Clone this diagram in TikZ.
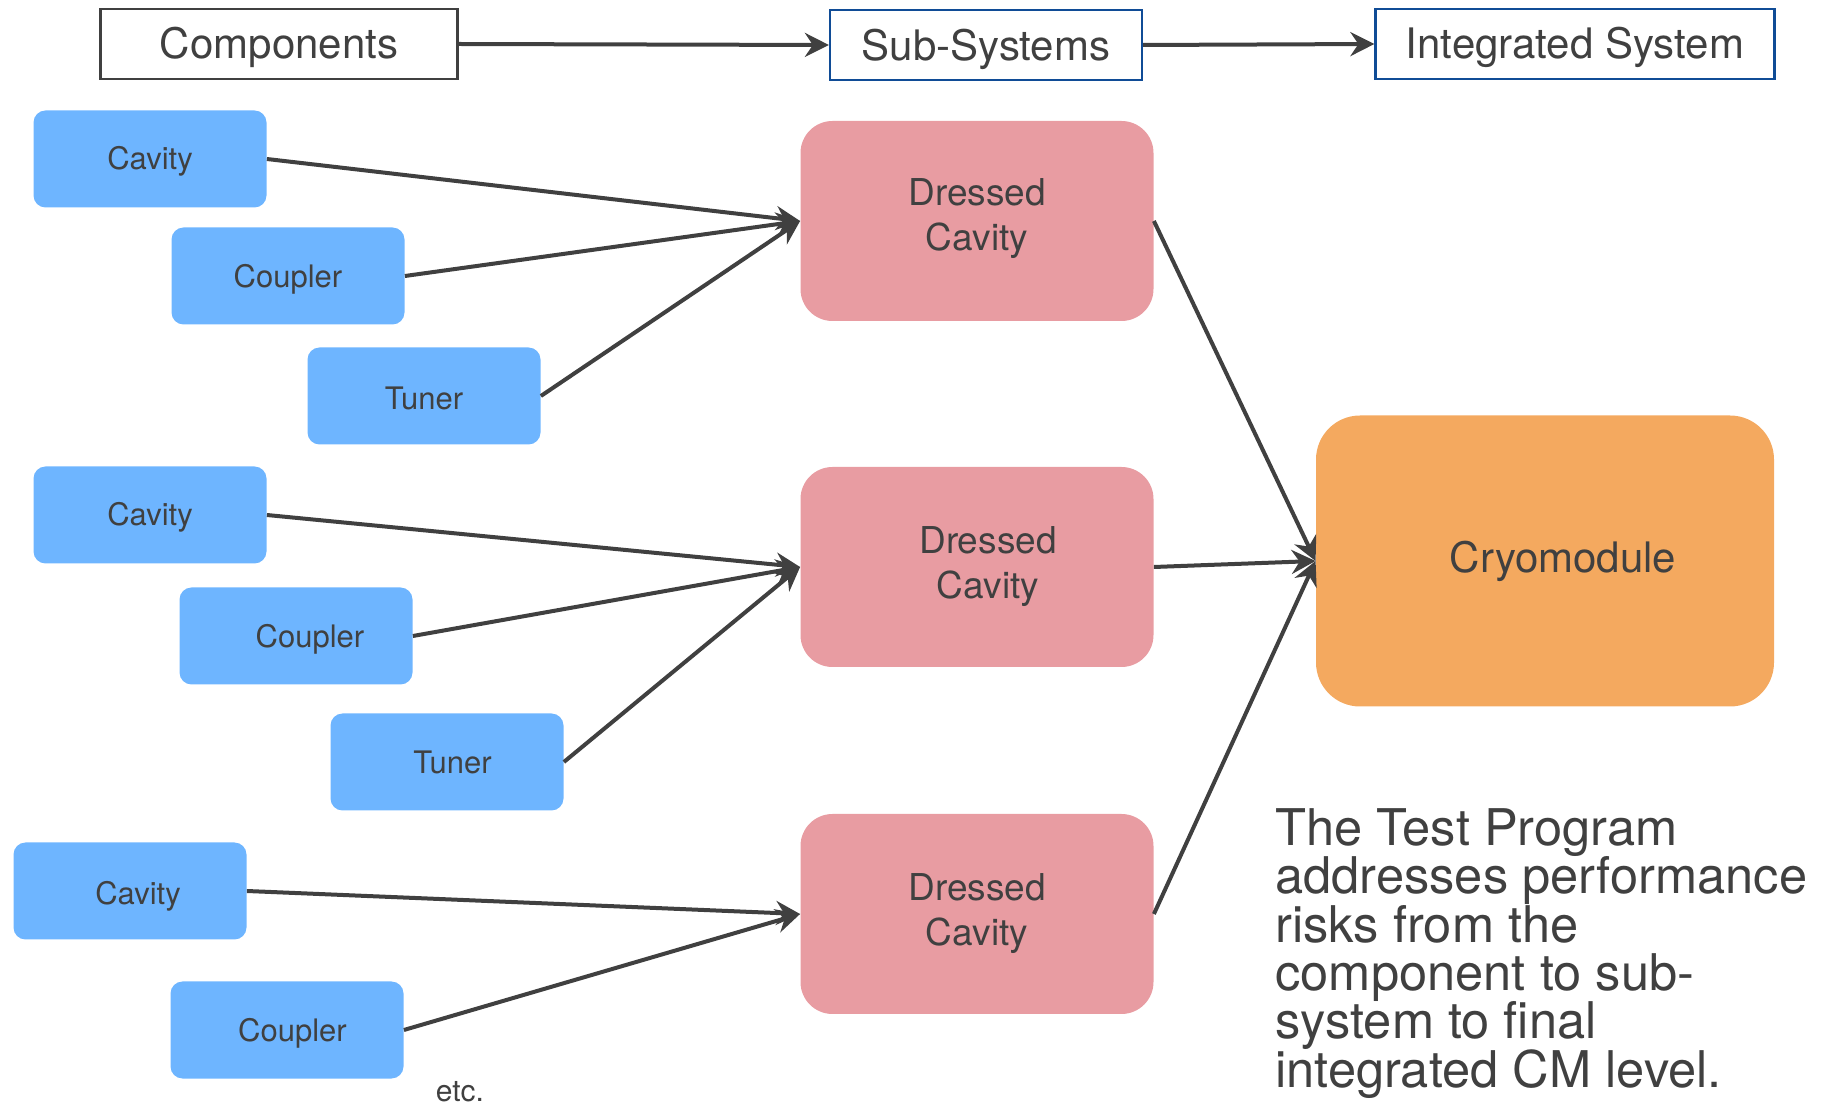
\documentclass[tikz,border=0pt]{standalone}
\usepackage{fontspec}
\setmainfont{TeX Gyre Heros}
\usetikzlibrary{arrows.meta}
\definecolor{txt}{HTML}{404040}
\definecolor{compblue}{HTML}{6EB5FF}
\definecolor{dcpink}{HTML}{E89CA2}
\definecolor{cmorange}{HTML}{F4A95F}
\definecolor{hdrblue}{HTML}{104C96}
\newcommand\dnby[2]{\raisebox{-#1}[\height][\depth]{#2}}
\tikzset{
  hdr/.style={draw=#1, line width=1.1pt, fill=white, text=txt, inner sep=0pt,
    minimum height=35pt, font=\fontsize{21}{24}\selectfont},
  comp/.style={fill=compblue, rounded corners=6pt, text=txt, inner sep=0pt,
    minimum width=116.5pt, minimum height=48.5pt, font=\fontsize{15.5}{18}\selectfont},
  dressed/.style={fill=dcpink, rounded corners=16pt, text=txt, inner sep=0pt, align=center,
    minimum width=176.5pt, minimum height=100pt, font=\fontsize{18.5}{22.5}\selectfont},
  cryo/.style={fill=cmorange, rounded corners=22pt, text=txt, inner sep=0pt,
    minimum width=229pt, minimum height=145.5pt, font=\fontsize{21}{24}\selectfont},
  conn/.style={draw=txt, line width=2pt, -{Stealth[length=12pt,width=12pt,inset=4pt]}},
}
\begin{document}
\begin{tikzpicture}[x=0.5pt,y=-0.5pt]
\useasboundingbox (0,0) rectangle (1828,1106);
% header row
\node[hdr=txt, minimum width=178.5pt] (hcomp) at (279,44) {\dnby{1.8pt}{Components}};
\node[hdr=hdrblue, minimum width=156pt] (hsub) at (986,45) {\dnby{2pt}{Sub-Systems}};
\node[hdr=hdrblue, minimum width=199.5pt] (hint) at (1575,44) {\dnby{1.8pt}{Integrated System}};
\draw[conn] (hcomp.east) -- (hsub.west);
\draw[conn] (hsub.east) -- (hint.west);
% components
\node[comp] (cav1) at (150,159) {\dnby{1.2pt}{Cavity}\hspace{2.3pt}};
\node[comp] (cou1) at (288,276) {\dnby{1.5pt}{Coupler}\hspace{2.3pt}};
\node[comp] (tun1) at (424,396) {\dnby{1.2pt}{Tuner}\hspace{3.5pt}};
\node[comp] (cav2) at (150,515) {\dnby{1pt}{Cavity}};
\node[comp] (cou2) at (296,636) {\hspace{14pt}\dnby{1.5pt}{Coupler}};
\node[comp] (tun2) at (447,762) {\hspace{5.5pt}Tuner};
\node[comp] (cav3) at (130,891) {\hspace{8pt}\dnby{2.5pt}{Cavity}};
\node[comp] (cou3) at (287,1030) {\hspace{5.5pt}\dnby{1.5pt}{Coupler}};
\node[text=txt, inner sep=0pt, font=\fontsize{15}{18}\selectfont] (etc) at (460,1092) {etc.};
% dressed cavities
\node[dressed] (dc1) at (977,221) {\dnby{-1.2pt}{Dressed}\\\dnby{-1.2pt}{Cavity}};
\node[dressed] (dc2) at (977,567) {\hspace{11pt}Dressed\\\hspace{11pt}Cavity};
\node[dressed] (dc3) at (977,914) {Dressed\\Cavity};
% cryomodule
\node[cryo] (cm) at (1545,561) {\hspace{18pt}Cryomodule};
% connectors
\draw[conn] (cav1.east) -- (dc1.west);
\draw[conn] (cou1.east) -- (dc1.west);
\draw[conn] (tun1.east) -- (dc1.west);
\draw[conn] (cav2.east) -- (dc2.west);
\draw[conn] (cou2.east) -- (dc2.west);
\draw[conn] (tun2.east) -- (dc2.west);
\draw[conn] (cav3.east) -- (dc3.west);
\draw[conn] (cou3.east) -- (dc3.west);
\draw[conn] (dc1.east) -- (cm.west);
\draw[conn] (dc2.east) -- (cm.west);
\draw[conn] (dc3.east) -- (cm.west);
% description
\node[anchor=north west, align=left, inner sep=0pt, text=txt,
  font=\fontsize{25.3}{24.2}\selectfont\setlength{\lineskiplimit}{-100pt}] (desc) at (1275,808)
  {The Test Program\\addresses performance\\risks from the\\component to sub-\\system to final\\integrated CM level.};
\end{tikzpicture}
\end{document}
